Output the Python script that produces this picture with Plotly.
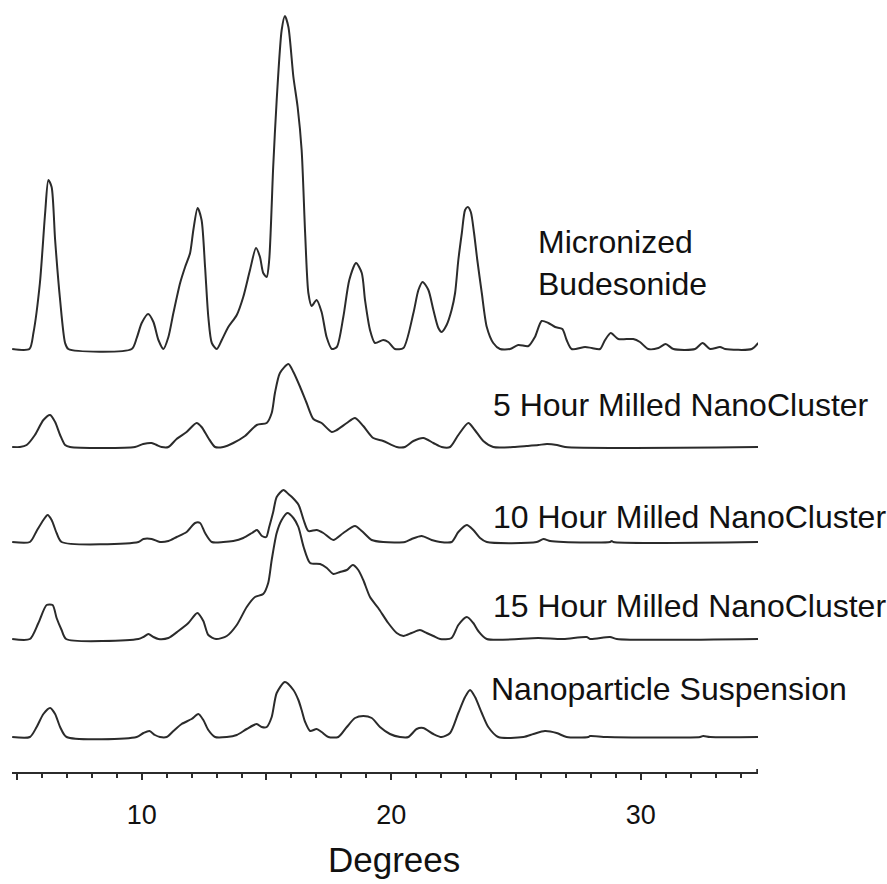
import plotly.graph_objects as go

# ---------------- data (2-theta in degrees, relative intensity) ----------------
names = ["Micronized<br>Budesonide", "5 Hour Milled NanoCluster",
         "10 Hour Milled NanoCluster", "15 Hour Milled NanoCluster",
         "Nanoparticle Suspension"]

micronized_x = [4.81, 5.50, 5.66, 5.92, 6.13, 6.26, 6.39, 6.53, 6.73, 6.93, 7.06, 9.60, 9.80, 10.00,
                10.26, 10.47, 10.67, 10.87, 11.07, 11.27, 11.54, 11.74, 11.94, 12.07, 12.24, 12.40,
                12.54, 12.67, 12.81, 13.01, 13.21, 13.47, 13.81, 14.07, 14.34, 14.58, 14.74, 14.87,
                15.01, 15.11, 15.27, 15.41, 15.61, 15.74, 15.88, 16.08, 16.25, 16.41, 16.55, 16.68,
                16.81, 17.01, 17.21, 17.41, 17.62, 17.82, 18.08, 18.32, 18.59, 18.82, 18.95, 19.15,
                19.35, 19.68, 19.88, 20.15, 20.49, 20.89, 21.09, 21.26, 21.49, 21.69, 21.89, 22.02,
                22.22, 22.42, 22.56, 22.69, 22.83, 22.96, 23.07, 23.19, 23.32, 23.45, 23.63, 23.83,
                24.09, 24.36, 24.76, 25.09, 25.50, 25.76, 26.03, 26.30, 26.57, 26.86, 27.03, 27.23,
                27.77, 28.04, 28.37, 28.57, 28.80, 29.10, 29.70, 29.97, 30.30, 30.71, 31.00, 31.31,
                32.18, 32.48, 32.78, 33.18, 33.38, 34.45, 34.71]
micronized_y = [0, 0, 16, 66, 136, 169, 162, 109, 49, 6, 0, 0, 11, 26,
                35, 27, 9, 0, 12, 36, 66, 82, 96, 119, 141, 129,
                82, 32, 6, 0, 9, 22, 34, 52, 79, 101, 92, 76,
                72, 89, 182, 249, 319, 333, 322, 272, 242, 199, 116, 56,
                43, 49, 37, 12, 0, 2, 32, 69, 86, 76, 49, 19,
                6, 9, 7, 0, 1, 36, 59, 67, 59, 39, 21, 17,
                24, 39, 56, 89, 116, 139, 142, 137, 116, 89, 56, 22,
                6, 0, 0, 4, 3, 12, 28, 26, 22, 20, 9, 0,
                2, 1, 0, 9, 16, 10, 10, 7, 0, 1, 5, 0,
                0, 6, 0, 2, 0, 0, 6]

h5_x = [4.81, 5.12, 5.39, 5.72, 6.06, 6.33, 6.53, 6.73, 6.93, 7.13, 9.73, 10.06, 10.40, 10.60,
        10.80, 11.07, 11.40, 11.80, 12.20, 12.40, 12.67, 12.94, 13.27, 13.67, 14.14, 14.61,
        15.01, 15.21, 15.34, 15.54, 15.88, 16.08, 16.35, 16.61, 16.88, 17.21, 17.62, 17.82,
        18.22, 18.55, 18.88, 19.28, 19.68, 20.22, 20.55, 20.89, 21.29, 21.69, 22.02, 22.36,
        22.69, 23.09, 23.35, 23.69, 24.09, 24.89, 25.43, 25.90, 26.24, 26.64, 26.97, 34.75]
h5_y = [0, 0, 2, 12, 27, 32, 25, 12, 2, 0, 0, 3, 4, 2,
        0, 0, 8, 15, 24, 20, 9, 0, 0, 4, 11, 22,
        24, 34, 54, 74, 83, 75, 60, 44, 28, 24, 15, 17,
        24, 29, 21, 9, 6, 0, 0, 6, 9, 4, 0, 0,
        12, 24, 17, 6, 0, 0, 1, 2, 3, 2, 0, 0]

h10_x = [4.81, 5.52, 5.79, 6.06, 6.23, 6.39, 6.59, 6.79, 9.87, 10.07, 10.40, 10.73, 11.07, 11.40,
         11.80, 12.14, 12.34, 12.54, 12.81, 13.27, 13.67, 14.07, 14.42, 14.62, 14.82, 14.99,
         15.11, 15.27, 15.41, 15.68, 15.88, 16.02, 16.29, 16.49, 16.68, 17.01, 17.28, 17.68,
         18.08, 18.55, 18.82, 19.22, 19.68, 20.55, 20.82, 21.22, 21.62, 21.96, 22.42, 22.69,
         23.03, 23.29, 23.56, 23.83, 25.83, 26.10, 26.37, 26.90, 28.77, 28.84, 28.90, 34.75]
h10_y = [0, 0, 11, 22, 27, 22, 9, 0, 0, 3, 3, 0, 1, 5,
         10, 19, 19, 9, 0, 0, 1, 4, 9, 12, 6, 5,
         15, 30, 45, 52, 48, 45, 37, 22, 11, 12, 9, 2,
         9, 16, 11, 2, 0, 0, 3, 6, 2, 0, 0, 10,
         17, 12, 4, 0, 0, 3, 1, 0, 0, 1, 0, 0]

h15_x = [4.81, 5.52, 5.86, 6.19, 6.43, 6.59, 6.79, 6.97, 9.87, 10.07, 10.27, 10.47, 10.67, 11.07,
         11.47, 11.87, 12.23, 12.47, 12.67, 12.98, 13.41, 13.81, 14.21, 14.54, 14.87, 15.07,
         15.21, 15.41, 15.61, 15.84, 16.08, 16.28, 16.49, 16.75, 17.15, 17.42, 17.68, 17.95,
         18.22, 18.46, 18.68, 18.88, 19.15, 19.48, 19.88, 20.22, 20.49, 20.82, 21.15, 21.42,
         21.69, 21.96, 22.42, 22.69, 23.03, 23.29, 23.49, 23.83, 25.90, 26.90, 27.84, 27.97,
         28.77, 29.04, 34.75]
h15_y = [0, 0, 16, 34, 34, 21, 9, 0, 0, 2, 5, 2, 0, 1,
         8, 16, 26, 18, 4, 0, 3, 14, 32, 42, 45, 56,
         79, 106, 119, 126, 121, 112, 92, 76, 75, 71, 65, 67,
         69, 74, 69, 59, 42, 31, 16, 6, 3, 6, 9, 6,
         3, 0, 1, 14, 22, 16, 8, 0, 1, 0, 2, 0,
         2, 0, 0]

nano_x = [4.81, 5.52, 5.79, 6.06, 6.33, 6.53, 6.73, 6.99, 9.80, 10.07, 10.31, 10.53, 10.73, 11.00,
          11.27, 11.60, 12.00, 12.27, 12.47, 12.67, 12.94, 13.41, 13.81, 14.21, 14.61, 14.81,
          15.01, 15.21, 15.41, 15.74, 16.08, 16.28, 16.41, 16.55, 16.75, 17.01, 17.21, 17.48,
          17.88, 18.22, 18.55, 18.88, 19.22, 19.55, 19.95, 20.35, 20.69, 21.02, 21.28, 21.69,
          22.02, 22.36, 22.69, 22.96, 23.16, 23.36, 23.63, 23.89, 24.29, 25.30, 25.70, 26.16,
          26.63, 27.03, 27.90, 27.97, 28.64, 32.38, 32.50, 32.78, 34.75]
nano_y = [0, 0, 10, 23, 29, 23, 10, 0, 0, 4, 6, 2, 0, 0,
          6, 13, 18, 23, 17, 7, 0, 0, 2, 8, 13, 10,
          10, 20, 44, 55, 47, 37, 27, 15, 6, 8, 5, 0,
          0, 10, 19, 21, 19, 10, 3, 0, 0, 8, 9, 3,
          0, 4, 24, 40, 47, 40, 24, 10, 0, 0, 3, 6,
          4, 0, 0, 1, 0, 0, 1, 0, 0]

series_x = [micronized_x, h5_x, h10_x, h15_x, nano_x]
series_y = [micronized_y, h5_y, h10_y, h15_y, nano_y]

# vertical stacking offsets (display offsets of each pattern)
offsets = [423, 325, 230, 133, 35]

tick_vals = [5, 10, 15, 20, 25, 30]
tick_text = ["", "10", "", "20", "", "30"]

# ---------------- figure ----------------
FONT = "Liberation Sans, Arial, Helvetica, sans-serif"
LINE = "#2b2b2b"

fig = go.Figure()
for xs, ys, off in zip(series_x, series_y, offsets):
    fig.add_trace(go.Scatter(
        x=xs, y=[v + off for v in ys], mode="lines",
        line=dict(color=LINE, width=2, shape="spline", smoothing=0.7),
        hoverinfo="skip", showlegend=False))

# labels: (x in degrees, y centre, text)
label_pos = [(25.80, 509), (24.0, 367), (24.0, 255), (24.0, 166), (23.92, 83)]
for (lx, ly), txt in zip(label_pos, names):
    fig.add_annotation(x=lx, y=ly, xref="x", yref="y", text=txt, showarrow=False,
                       xanchor="left", yanchor="middle", align="left",
                       font=dict(family=FONT, size=32, color="#111"))

fig.add_annotation(x=20.1, y=-0.113, xref="x", yref="paper", text="Degrees", showarrow=False,
                   xanchor="center", yanchor="middle",
                   font=dict(family=FONT, size=35, color="#111"))

fig.add_shape(type="line", x0=34.69, x1=34.69, y0=0, y1=3, xref="x", yref="y",
              line=dict(color=LINE, width=3))

fig.update_layout(
    width=887, height=884,
    margin=dict(l=12, r=129, t=0, b=112),
    paper_bgcolor="white", plot_bgcolor="white",
    xaxis=dict(range=[4.802, 34.70], showgrid=False, zeroline=False,
               showline=True, linecolor=LINE, linewidth=2,
               ticks="outside", tickvals=tick_vals, ticktext=tick_text,
               ticklen=6, tickwidth=2, tickcolor=LINE,
               ticklabelstandoff=12,
               tickfont=dict(family=FONT, size=27, color="#111"),
               minor=dict(dtick=1, tick0=5, ticks="outside", ticklen=4, tickwidth=2,
                          tickcolor=LINE)),
    yaxis=dict(range=[0, 772], visible=False, fixedrange=True),
)

fig.write_html("out.html")
